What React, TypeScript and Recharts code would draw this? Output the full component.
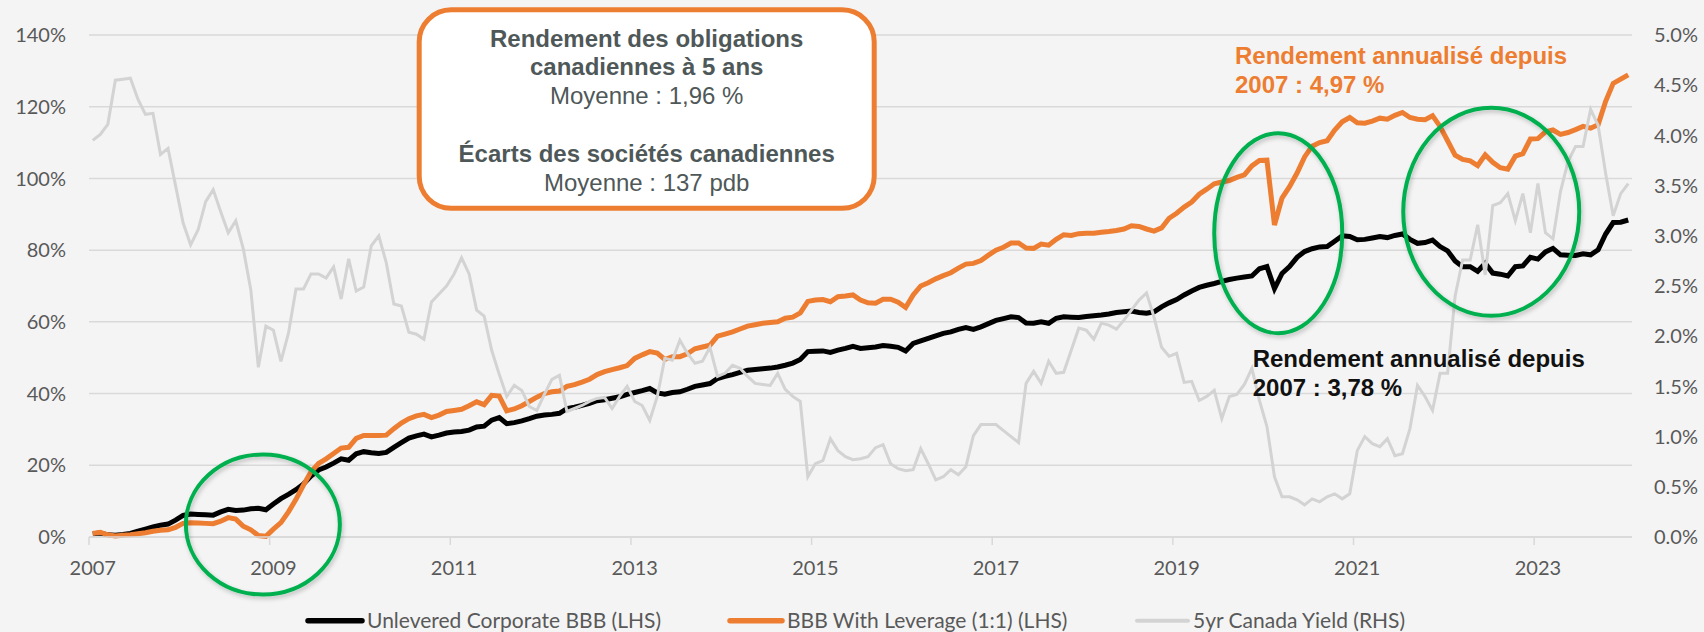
import { LineChart, Line, XAxis, YAxis, CartesianGrid, ReferenceDot } from "recharts";

// monthly points, Jan 2007 -> Jan 2024 (205 months)
const unlevered = [
  0.9, 1.1, 0.6, 0.5, 0.7, 1.0, 1.6, 2.2, 2.8, 3.3,
  3.6, 4.7, 6.0, 6.4, 6.3, 6.2, 6.1, 7.0, 7.7, 7.4,
  7.5, 7.9, 8.0, 7.6, 9.2, 10.7, 11.9, 13.2, 14.8, 17.0,
  18.7, 19.5, 20.6, 21.8, 21.4, 23.2, 23.8, 23.5, 23.3, 23.6,
  25.0, 26.3, 27.6, 28.2, 28.7, 27.9, 28.4, 29.0, 29.3, 29.4,
  29.8, 30.7, 30.9, 32.6, 33.3, 31.6, 31.9, 32.4, 33.0, 33.7,
  34.0, 34.2, 34.5, 35.8, 36.2, 36.7, 37.3, 38.0, 38.3, 38.7,
  39.1, 39.8, 40.3, 40.8, 41.4, 40.2, 39.8, 40.3, 40.5, 41.2,
  42.0, 42.4, 42.8, 44.2, 44.8, 45.3, 45.9, 46.5, 46.7, 46.9,
  47.1, 47.4, 47.9, 48.5, 49.5, 51.7, 51.8, 51.9, 51.5, 52.1,
  52.6, 53.2, 52.6, 52.8, 53.0, 53.4, 53.2, 52.9, 51.9, 54.0,
  54.7, 55.4, 56.1, 56.8, 57.2, 57.9, 58.4, 57.9, 58.6, 59.5,
  60.4, 60.9, 61.4, 61.2, 59.7, 59.6, 60.0, 59.6, 61.0, 61.4,
  61.3, 61.2, 61.5, 61.7, 61.9, 62.2, 62.6, 62.8, 63.0, 62.6,
  62.4, 62.8, 64.2, 65.3, 66.2, 67.5, 68.6, 69.6, 70.2, 70.7,
  71.3, 71.8, 72.2, 72.5, 72.8, 74.8, 75.4, 69.3, 73.5, 75.4,
  78.0, 79.6, 80.4, 80.9, 81.0, 82.5, 84.0, 83.8, 82.9, 83.0,
  83.4, 83.8, 83.5, 84.1, 84.5, 83.0, 81.9, 82.1, 82.8, 81.0,
  79.8, 77.0, 75.4, 75.4, 74.1, 76.3, 73.6, 73.3, 72.8, 75.4,
  75.6, 78.0, 77.5, 79.5, 80.5, 78.7, 78.6, 78.5, 79.0, 78.7,
  80.1, 84.5, 87.7, 87.8, 88.4,
];

const levered = [
  1.0, 1.3, 0.6, 0.3, 0.5, 0.6, 0.9, 1.2, 1.6, 1.9,
  2.0, 2.7, 3.8, 4.0, 3.9, 3.8, 3.7, 4.4, 5.4, 5.0,
  3.0, 2.0, 0.4, 0.2, 2.2, 4.0, 7.0, 10.5, 14.5, 18.2,
  20.5, 21.8, 23.3, 24.8, 25.0, 27.5, 28.3, 28.3, 28.3, 28.4,
  30.2, 31.8, 33.0, 33.8, 34.2, 33.3, 34.0, 35.0, 35.3, 35.6,
  36.6, 37.7, 36.9, 39.5, 39.3, 35.2, 35.7, 36.6, 37.8, 39.0,
  40.0, 40.5, 40.7, 42.0, 42.5, 43.2, 44.0, 45.3, 46.1, 46.7,
  47.2, 47.8, 49.8, 50.8, 51.7, 51.3, 49.5, 50.3, 50.3, 51.1,
  52.5, 53.0, 53.5, 56.0, 56.6, 57.2, 58.0, 58.8, 59.2, 59.6,
  59.8, 60.0, 61.0, 61.3, 62.5, 65.7, 66.1, 66.2, 65.6, 67.0,
  67.2, 67.5, 66.1, 65.3, 65.2, 66.3, 66.3, 65.5, 64.0, 67.5,
  70.0, 70.9, 72.0, 72.9, 73.7, 75.0, 76.1, 76.3, 77.1, 78.6,
  80.0, 80.8, 82.0, 82.0, 80.6, 80.5, 81.7, 81.4, 83.0, 84.3,
  84.1, 84.6, 84.7, 84.7, 85.0, 85.2, 85.5, 85.9, 86.8, 86.6,
  85.9, 85.3, 86.2, 88.9, 90.3, 92.0, 93.4, 95.6, 97.0, 98.5,
  99.0, 99.4, 100.3, 101.0, 103.5, 105.0, 105.1, 87.0, 94.5, 97.7,
  101.5, 106.0, 109.0, 110.0, 110.5, 113.5, 115.8, 117.0, 115.5, 115.4,
  116.0, 116.8, 116.5, 117.6, 118.4, 117.0, 116.5, 116.4, 117.5, 114.5,
  110.5, 106.5, 105.3, 104.9, 103.6, 106.6, 104.5, 103.0, 102.6, 106.2,
  106.9, 111.0, 111.1, 113.0, 113.5, 112.3, 112.8, 113.6, 114.5, 114.0,
  115.0, 121.5, 126.5, 127.7, 128.9,
];

const canadaYield = [
  3.95, 4.01, 4.11, 4.55, 4.56, 4.57, 4.36, 4.21, 4.22, 3.81,
  3.87, 3.50, 3.13, 2.91, 3.06, 3.34, 3.46, 3.24, 3.03, 3.15,
  2.87, 2.46, 1.69, 2.10, 2.06, 1.75, 2.03, 2.47, 2.47, 2.62,
  2.62, 2.58, 2.69, 2.37, 2.77, 2.45, 2.49, 2.90, 3.00, 2.73,
  2.32, 2.30, 2.04, 2.02, 1.97, 2.34, 2.42, 2.50, 2.62, 2.78,
  2.62, 2.26, 2.20, 1.86, 1.62, 1.40, 1.51, 1.46, 1.30, 1.26,
  1.42, 1.57, 1.61, 1.25, 1.28, 1.31, 1.35, 1.38, 1.39, 1.28,
  1.40, 1.50, 1.35, 1.31, 1.16, 1.40, 1.78, 1.76, 1.96, 1.83,
  1.73, 1.75, 1.89, 1.60, 1.63, 1.71, 1.68, 1.60, 1.53, 1.52,
  1.51, 1.63, 1.47, 1.40, 1.35, 0.60, 0.73, 0.76, 0.98, 0.86,
  0.80, 0.77, 0.78, 0.80, 0.89, 0.92, 0.73, 0.68, 0.66, 0.67,
  0.88, 0.73, 0.57, 0.60, 0.67, 0.62, 0.70, 1.01, 1.12, 1.12,
  1.12, 1.06, 1.00, 0.94, 1.53, 1.65, 1.53, 1.75, 1.63, 1.64,
  1.86, 2.08, 2.06, 1.97, 2.13, 2.11, 2.07, 2.16, 2.26, 2.36,
  2.43, 2.19, 1.89, 1.80, 1.83, 1.54, 1.55, 1.36, 1.40, 1.46,
  1.18, 1.40, 1.42, 1.52, 1.68, 1.36, 1.10, 0.60, 0.40, 0.40,
  0.37, 0.32, 0.38, 0.35, 0.40, 0.43, 0.38, 0.43, 0.86, 1.00,
  0.93, 0.90, 0.98, 0.81, 0.83, 1.08, 1.51, 1.40, 1.26, 1.63,
  1.63, 2.40, 2.76, 2.76, 3.11, 2.61, 3.30, 3.33, 3.42, 3.15,
  3.42, 3.03, 3.52, 3.03, 2.97, 3.44, 3.74, 3.89, 3.89, 4.26,
  4.10, 3.62, 3.20, 3.42, 3.52,
];

const tickYears = [2007, 2009, 2011, 2013, 2015, 2017, 2019, 2021, 2023];
const leftTicks = [0, 20, 40, 60, 80, 100, 120, 140];
const rightTicks = [0, 0.5, 1, 1.5, 2, 2.5, 3, 3.5, 4, 4.5, 5];

// highlighted periods: [month index, LHS level, rx, ry]
const highlights = [
  [22.6, 3.5, 77, 70],
  [157.5, 84.7, 64, 100],
  [185.8, 90.7, 88, 104],
];

const data = unlevered.map((v, i) => ({
  m: i,
  unlevered: v,
  levered: levered[i],
  yield5: canadaYield[i],
}));

// tick marks sit on the January boundary, labels at the month centre
const yearBoundaries = tickYears.map((y) => (y - 2007) * 12 - 0.5);

const GREY_TEXT = "#595959";
const ORANGE = "#ED7D31";
const GREEN = "#00B050";

function YearTick(props: any) {
  const { x, y, payload } = props;
  const year = 2007 + Math.round((payload.value + 0.5) / 12);
  return (
    <g>
      <line x1={x} x2={x} y1={y - 8} y2={y} stroke="#d9d9d9" strokeWidth={1.5} />
      <text x={x + 3.76} y={y + 30} textAnchor="middle" fill={GREY_TEXT} fontSize={20} fontFamily="Lato">
        {year}
      </text>
    </g>
  );
}

function Ellipse(rx: number, ry: number) {
  return (props: any) => (
    <g>
      <defs>
        <filter id={`sh${rx}`} x="-20%" y="-20%" width="140%" height="140%">
          <feDropShadow dx="1.5" dy="2.5" stdDeviation="2" floodColor="#000" floodOpacity="0.22" />
        </filter>
      </defs>
      <ellipse
        cx={props.cx}
        cy={props.cy}
        rx={rx}
        ry={ry}
        fill="none"
        stroke={GREEN}
        strokeWidth={4}
        filter={`url(#sh${rx})`}
      />
    </g>
  );
}

const legendItems = [
  { label: "Unlevered Corporate BBB (LHS)", color: "#000", x: 308, w: 54, sw: 5.5 },
  { label: "BBB With Leverage (1:1) (LHS)", color: ORANGE, x: 730, w: 52, sw: 5.5 },
  { label: "5yr Canada Yield (RHS)", color: "#d3d3d3", x: 1137, w: 51, sw: 4 },
];

export default function App() {
  return (
    <div style={{ position: "absolute", left: 0, top: 0, width: 1704, height: 632, background: "#f4f4f4" }}>
      <LineChart width={1704} height={632} data={data} margin={{ top: 35, right: 0, bottom: 60, left: 0 }}>
        <CartesianGrid yAxisId="left" vertical={false} stroke="#d9d9d9" strokeWidth={1.5} />
        <XAxis
          dataKey="m"
          type="number"
          domain={[-0.5, 204.5]}
          ticks={yearBoundaries}
          interval={0}
          height={35}
          axisLine={{ stroke: "#d9d9d9", strokeWidth: 1.5 }}
          tickLine={false}
          tickSize={8}
          tickMargin={0}
          tick={<YearTick />}
        />
        <YAxis
          yAxisId="left"
          domain={[0, 140]}
          ticks={leftTicks}
          interval={0}
          width={89}
          axisLine={false}
          tickLine={false}
          tickMargin={17}
          tickFormatter={(v: number) => `${v}%`}
          tick={{ fill: GREY_TEXT, fontSize: 20, fontFamily: "Lato" }}
        />
        <YAxis
          yAxisId="right"
          orientation="right"
          domain={[0, 5]}
          ticks={rightTicks}
          interval={0}
          width={72}
          axisLine={false}
          tickLine={false}
          tickMargin={16}
          tickFormatter={(v: number) => `${v.toFixed(1)}%`}
          tick={{ fill: GREY_TEXT, fontSize: 20, fontFamily: "Lato" }}
        />
        <Line yAxisId="left" type="linear" dataKey="unlevered" stroke="#000" strokeWidth={5} dot={false} isAnimationActive={false} />
        <Line yAxisId="left" type="linear" dataKey="levered" stroke={ORANGE} strokeWidth={5} dot={false} isAnimationActive={false} />
        <Line yAxisId="right" type="linear" dataKey="yield5" stroke="#d3d3d3" strokeWidth={3} dot={false} isAnimationActive={false} />
        {highlights.map(([m, v, rx, ry]) => (
          <ReferenceDot key={m} yAxisId="left" x={m} y={v} ifOverflow="visible" shape={Ellipse(rx, ry)} />
        ))}
      </LineChart>

      <svg width={1704} height={632} style={{ position: "absolute", left: 0, top: 0, pointerEvents: "none" }}>
        <rect x={419.2} y={9.8} width={455} height={198.5} rx={32} fill="#fff" stroke={ORANGE} strokeWidth={5} />
        <g fontFamily="Liberation Sans, Arial, sans-serif" fontSize={24} fill="#4f5858" textAnchor="middle">
          <text x={646.7} y={47.3} fontWeight="bold">Rendement des obligations</text>
          <text x={646.7} y={75} fontWeight="bold">canadiennes à 5 ans</text>
          <text x={646.7} y={104}>Moyenne : 1,96 %</text>
          <text x={646.7} y={162.3} fontWeight="bold">Écarts des sociétés canadiennes</text>
          <text x={646.7} y={190.7}>Moyenne : 137 pdb</text>
        </g>
        <g fontFamily="Liberation Sans, Arial, sans-serif" fontSize={24} fontWeight="bold">
          <text x={1235} y={64} fill={ORANGE}>Rendement annualisé depuis</text>
          <text x={1235} y={92.7} fill={ORANGE}>2007 : 4,97 %</text>
          <text x={1252.7} y={366.7} fill="#111">Rendement annualisé depuis</text>
          <text x={1252.7} y={396} fill="#111">2007 : 3,78 %</text>
        </g>
        {legendItems.map((it) => (
          <g key={it.label}>
            <line x1={it.x} x2={it.x + it.w} y1={620.7} y2={620.7} stroke={it.color} strokeWidth={it.sw} strokeLinecap="round" />
            <text x={it.x + it.w + 5} y={628} fontFamily="Lato" fontSize={21} fill={GREY_TEXT}>
              {it.label}
            </text>
          </g>
        ))}
      </svg>
    </div>
  );
}
